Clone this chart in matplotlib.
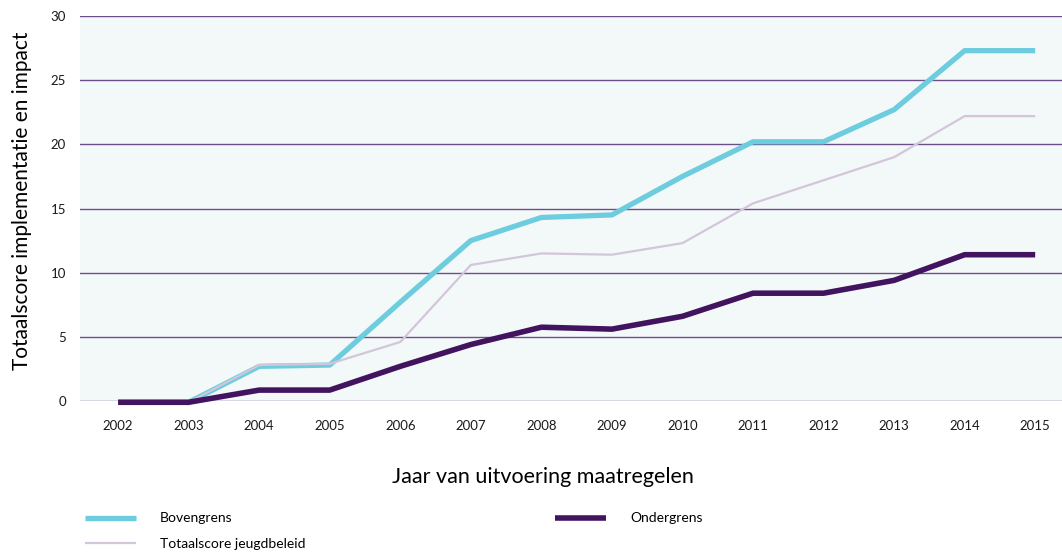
import matplotlib
matplotlib.use("Agg")
import matplotlib.pyplot as plt

# data
jaren = list(range(2002, 2016))
bovengrens = [-0.1, -0.1, 2.7, 2.8, 7.7, 12.5, 14.3, 14.5, 17.5, 20.2, 20.2, 22.7, 27.3, 27.3]
totaalscore = [-0.1, -0.1, 2.8, 2.9, 4.6, 10.6, 11.5, 11.4, 12.3, 15.4, 17.2, 19.0, 22.2, 22.2]
ondergrens = [-0.1, -0.1, 0.85, 0.85, 2.7, 4.4, 5.75, 5.6, 6.6, 8.4, 8.4, 9.4, 11.4, 11.4]
y_ticks = [0, 5, 10, 15, 20, 25, 30]

plt.rcParams["font.family"] = ["Lato", "DejaVu Sans"]

fig = plt.figure(figsize=(10.62, 5.59), dpi=100)
ax = fig.add_axes([80 / 1062, 1 - 401 / 559, 1 - 80 / 1062, 385 / 559])
ax.set_facecolor("#F3F9F9")

for t in y_ticks:
    ax.axhline(t, color="#6B4E8A", linewidth=1.0, zorder=1)

ax.plot(jaren, bovengrens, color="#6DCDDE", linewidth=3.8, label="Bovengrens",
        solid_capstyle="butt", zorder=3, clip_on=False)
ax.plot(jaren, totaalscore, color="#D3C5DA", linewidth=1.6, label="Totaalscore jeugdbeleid",
        solid_capstyle="butt", zorder=4, clip_on=False)
ax.plot(jaren, ondergrens, color="#42145F", linewidth=4.0, label="Ondergrens",
        solid_capstyle="butt", zorder=5, clip_on=False)

ax.set_xlim(2001.46, 2015.38)
ax.set_ylim(0, 30)
ax.set_xticks(jaren)
ax.set_yticks(y_ticks)
ax.tick_params(axis="both", length=0, labelsize=9.5, colors="#1a1a1a")
ax.tick_params(axis="y", pad=10)
ax.tick_params(axis="x", pad=14)
for s in ax.spines.values():
    s.set_visible(False)

ax.set_ylabel("Totaalscore implementatie en impact", fontsize=15)
ax.yaxis.set_label_coords(-48 / 982, 0.519)
ax.set_xlabel("Jaar van uitvoering maatregelen", fontsize=15.5)
ax.xaxis.set_label_coords(0.4715, -66 / 385)

handles, labels = ax.get_legend_handles_labels()
fig.legend(handles, labels, ncol=2, loc="upper left",
           bbox_to_anchor=(72 / 1062, 1 - 500 / 559), frameon=False,
           fontsize=10, handlelength=3.7, handletextpad=1.7,
           labelspacing=0.95, columnspacing=18)

fig.savefig("out.png", dpi=100)
